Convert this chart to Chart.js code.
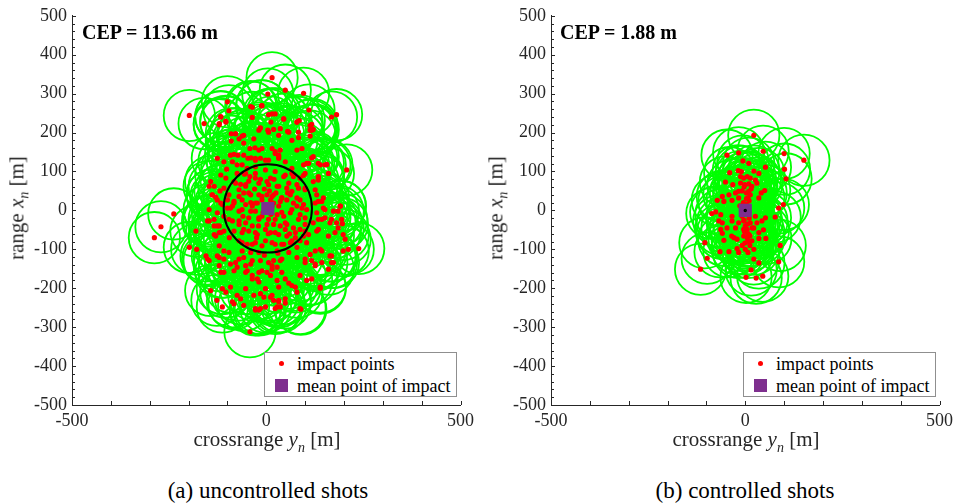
<!DOCTYPE html>
<html>
<head>
<meta charset="utf-8">
<script src="https://cdn.jsdelivr.net/npm/chart.js@4.4.1/dist/chart.umd.min.js"></script>
<style>
  body { margin: 0; background: #fff; }
  #page { position: relative; width: 958px; height: 503px; font-family: 'Liberation Serif', 'Times New Roman', serif; color: #000; overflow: hidden; }
  canvas { position: absolute; top: 0; }
  #left { left: 0; }
  #right { left: 479px; }
  .txt { position: absolute; white-space: nowrap; line-height: 1; }
  .txt sub { font-size: 14px; font-style: italic; }
  .ytitle { font-size: 21px; color: #262626; transform: translate(-50%, -50%) rotate(-90deg); }
  .xtitle { font-size: 21px; color: #262626; transform: translate(-50%, -50%); }
  .caption { font-size: 23px; transform: translate(-50%, -50%); }
  .cep { font-size: 20px; font-weight: bold; }
  .legend { position: absolute; box-sizing: border-box; width: 193px; height: 45px; border: 1px solid #8f8f8f; background: #fff; font-size: 18px; }
  .legend .row { position: absolute; left: 32px; line-height: 1; }
  .legend .dot { position: absolute; width: 5px; height: 5px; border-radius: 50%; background: #ff0000; }
  .legend .sq { position: absolute; width: 13px; height: 13px; background: #7e2f8e; }
</style>
</head>
<body>
<div id="page">
  <canvas id="left" width="479" height="440"></canvas>
  <canvas id="right" width="479" height="440"></canvas>

  <div class="txt ytitle" style="left:19px; top:208px;">range <i>x</i><sub>n</sub> [m]</div>
  <div class="txt ytitle" style="left:498px; top:208px;">range <i>x</i><sub>n</sub> [m]</div>
  <div class="txt xtitle" style="left:267px; top:442px;">crossrange <i>y</i><sub>n</sub> [m]</div>
  <div class="txt xtitle" style="left:746px; top:442px;">crossrange <i>y</i><sub>n</sub> [m]</div>
  <div class="txt caption" style="left:268px; top:490px;">(a) uncontrolled shots</div>
  <div class="txt caption" style="left:745px; top:490px;">(b) controlled shots</div>

  <div class="txt cep" id="cepLeft" style="left:82px; top:22px;"></div>
  <div class="txt cep" id="cepRight" style="left:560px; top:22px;"></div>

  <div class="legend" style="left:264px; top:352px;">
    <div class="dot" style="left:14px; top:8px;"></div>
    <div class="row" style="top:2px;">impact points</div>
    <div class="sq" style="left:10px; top:26px;"></div>
    <div class="row" style="top:24px;">mean point of impact</div>
  </div>
  <div class="legend" style="left:743px; top:352px;">
    <div class="dot" style="left:14px; top:8px;"></div>
    <div class="row" style="top:2px;">impact points</div>
    <div class="sq" style="left:10px; top:26px;"></div>
    <div class="row" style="top:24px;">mean point of impact</div>
  </div>
</div>

<script>
// impact points [crossrange y_n, range x_n] in metres
const uncontrolledImpacts = [
  [-198,244],[15,341],[49,309],[4,299],[96,301],[-100,279],[168,240],[181,246],[207,104],[190,11],
  [238,-98],[-238,-9],[-271,-42],[-288,-70],[-198,-95],[-143,-206],[-127,-231],[-113,-248],[-42,-312],[89,-254],
  [139,-200],[168,-134],[211,-100],[196,-34],
  [-117,241],[-104,229],[-121,220],[-40,267],[-12,269],[-36,239],[-15,212],[-90,197],[-79,197],[-62,191],
  [-70,184],[-90,178],[-58,173],[-32,184],[-42,159],[-29,161],[-19,155],[-11,159],[-83,144],[-73,142],
  [-92,142],[-58,142],[-47,134],[-39,135],[-28,134],[-15,134],[-126,134],[-109,125],[-87,125],[-75,117],
  [-102,106],[-62,117],[-49,108],[-28,112],[-75,95],[-56,93],[-42,87],[-28,83],[-117,91],[-104,83],
  [-83,74],[-66,67],[-53,66],[-143,74],[-134,62],[-109,57],[-119,50],[-70,53],[-58,45],[-40,40],
  [-139,40],[-130,34],[-100,27],[-83,23],[-62,27],[-113,15],[-92,6],
  [110,258],[6,246],[23,248],[45,235],[12,227],[79,227],[85,231],[117,221],[4,206],[19,208],
  [36,210],[55,203],[113,206],[121,208],[83,187],[66,180],[113,191],[15,159],[23,151],[32,142],
  [36,155],[79,155],[92,159],[6,129],[32,134],[117,135],[121,138],[96,117],[104,121],[139,117],
  [156,118],[66,108],[45,87],[70,87],[96,90],[134,83],[121,74],[79,66],[100,57],[28,62],
  [53,57],[66,49],[126,53],[130,40],[19,40],[40,32],[79,32],[2,74],[11,83],[143,23],[147,32],
  [191,11],[173,-2],[185,-2],[134,23],[147,6],[130,-6],[151,-19],[164,-32],[181,-32],[194,-23],
  [185,-45],[198,-62],[203,-74],[198,-104],[143,-23],[121,-32],[100,-36],[130,-53],[109,-62],[87,-78],
  [104,-83],[126,-104],[143,-104],[164,-117],[173,-134],[160,-151],[126,-138],[79,-121],[100,-125],[117,-129],
  [36,-129],[19,-129],[6,-134],[28,-146],[15,-151],[2,-159],[11,-167],[40,-159],[49,-176],[58,-187],
  [28,-180],[32,-197],[75,-197],[104,-180],[139,-197],[11,-223],[19,-231],[32,-231],[49,-238],[36,-248],
  [28,-248],[87,-252],[-6,-223],
  [2,15],[19,19],[36,23],[53,27],[70,19],[79,11],[96,15],[104,2],[11,-6],[28,-11],
  [45,-15],[62,-6],[87,-11],[100,-19],[2,-36],[19,-36],[36,-40],[53,-36],[70,-45],[87,-49],
  [11,-57],[32,-62],[53,-66],[75,-70],[96,-66],[-2,-78],[23,-87],[45,-87],[62,-83],[79,-95],
  [28,-104],[58,-108],
  [-181,-53],[-179,-100],[-155,-117],[-151,-125],[-147,-27],[-134,-40],[-126,-40],[-134,-62],[-121,-57],[-109,-53],
  [-121,-91],[-109,-104],[-96,-108],[-121,-121],[-109,-125],[-121,-142],[-109,-159],[-117,-159],[-92,-138],[-75,-146],
  [-83,-155],[-70,-125],[-58,-121],[-40,-138],[-49,-155],[-36,-167],[-19,-159],[-23,-176],[-113,-201],[-92,-197],
  [-66,-227],[-32,-218],[-15,-214],[-83,-240],[-58,-244],[-28,-256],[-15,-252],
  [-117,19],[-100,6],[-83,19],[-70,-2],[-53,15],[-40,-2],[-28,19],[-126,-6],[-109,-15],[-87,-27],
  [-70,-36],[-53,-32],[-36,-40],[-19,-19],[-83,-53],[-62,-57],[-45,-53],[-23,-62],[-70,-78],[-49,-87],
  [-28,-83],[-62,-104],[-40,-108],[-19,-108],[-15,-129],
  [-53,95],[-28,95],[-2,104],[23,100],[49,91],[66,95],[87,83],[-79,70],[-53,62],[-19,70],
  [6,66],[32,62],[58,70],[83,57],[100,53],[-96,40],[-70,36],[-45,45],[-19,40],[-11,27],
  [15,36],[40,32],[62,40],[87,27],[-87,11],[-62,2],[-36,11],[32,11],[66,2],[92,6],
  [-96,-23],[-70,-27],[-45,-19],[-19,-23],[23,-23],[49,-32],[83,-23],[-58,-49],[-28,-57],[-2,-49],
  [23,-57],[49,-49],[75,-57],[100,-53],[-62,-83],[-36,-87],[-11,-91],[15,-83],[40,-87],[66,-78],
  [-11,36],[2,40],[11,27],[-23,19],[15,11],[-11,-15],[6,-23],[-28,-2],[23,146],[32,138],
  [-28,129],[-2,129],[49,125],[134,78],[126,19],[151,2],[134,-23],[168,-23],[134,-49],[160,-66],
  [177,-57],[139,-100],[113,-113],[143,-134],[168,-117],[100,-134],[126,-142],[87,-167],[117,-176],[66,-193],
  [79,-210],[49,-227],[32,-235],[23,-252],[-2,-248],[-19,-256],[-28,-252],[15,-218],[-2,-201],[-19,-184],
  [-36,-176],[-53,-201],[-75,-218],[-87,-235],[-104,-210],[-79,-134],[-53,-142],[-36,-129],[-11,-155],[15,-142],
  [40,-125],[-53,-159],[-147,62],[-139,40],[-126,27],[-147,2],[-134,-23],[-121,-40],[-151,-27],[-130,-66],
  [-117,-57],[-147,-129],[-126,-117],[-160,223],[-121,223],[-104,227],[-117,240],[-96,256],[-36,265],[-11,269],
  [15,248],[45,235],[79,227],[113,218],[117,206],[83,201],[58,201],[-79,197],[-58,193],[-19,206],
  [6,201],[32,193],[109,121],[134,121],[151,117],[100,95],[134,87],[160,95],
  [-5,55],[8,50],[-15,80],[20,80],[-30,55],[25,45],[-8,-5],[12,-10],[-20,-40],[5,-60],
  [-40,20],[40,-5],[-45,75],[55,45],[-25,-70],[30,-110],[-5,-115],[-60,-15],[60,-60],[-95,-70]
];

const controlledImpacts = [
  [22,193],[46,152],[100,146],[151,129],[-17,148],[-47,142],[-6,127],[9,121],[52,111],[101,106],
  [-40,97],[-18,102],[22,101],[35,95],[105,81],[-51,73],[-12,87],[-4,83],[5,87],[13,83],
  [26,78],[30,70],[-32,66],[-12,70],[-1,66],[9,68],[17,62],[50,51],[41,45],[35,32],
  [-59,36],[-42,40],[-25,45],[-17,49],[9,49],[13,40],[-72,26],[-55,23],[-34,26],[-17,32],
  [7,32],[98,15],[86,6],[-86,-8],[-76,-4],[-63,-11],[-34,-15],[-8,-15],[9,-6],[26,-15],
  [52,-19],[77,-17],[-68,-27],[-59,-32],[-34,-27],[-17,-32],[-4,-27],[13,-32],[30,-32],[43,-27],
  [-63,-49],[-47,-45],[-25,-45],[-4,-49],[5,-49],[22,-45],[47,-50],[35,-57],[-59,-59],[-35,-66],
  [-21,-74],[-4,-66],[5,-70],[17,-78],[35,-72],[53,-72],[-104,-83],[-55,-77],[-29,-70],[-1,-84],
  [9,-78],[90,-90],[-21,-98],[22,-100],[-42,-106],[-65,-106],[-17,-108],[7,-108],[-98,-123],[22,-125],
  [35,-135],[86,-132],[-115,-151],[15,-153],[2,-172],[28,-174],[45,-169],
  [0,10],[5,-10],[-5,20],[10,-20],[0,-40],[8,-60],[-8,50],[3,30],[12,-90],[0,-100],[-10,100],[15,55],
  [2,-5],[-3,-25],[6,-35],[-6,5],[4,15],[10,25],[-2,-55],[6,-80],[12,-65],[-8,-90],[3,45],[-3,60],
  [18,-45],[-14,12]
];

const meanUncontrolled = [4, 5];
const meanControlled = [0, 0];
const cepValues = [113.66, 1.88];

const xTickLabels = [-500, 0, 500];
const yTickLabels = [-500, -400, -300, -200, -100, 0, 100, 200, 300, 400, 500];

const RANGE_MIN = -500, RANGE_MAX = 500;
const SPREAD_RADIUS_M = 66;   // radius of the green circles, metres
const AXIS_COLOR = '#262626';
const FONT = "'Liberation Serif', 'Times New Roman', serif";

function metresToPixels(chart, m) {
  if (!chart.chartArea) return 0;
  const s = chart.scales.x;
  return Math.abs(s.getPixelForValue(m) - s.getPixelForValue(0));
}

const inwardTicks = {
  id: 'inwardTicks',
  afterDraw(chart) {
    const { ctx, chartArea: a, scales: { x, y } } = chart;
    ctx.save();
    ctx.strokeStyle = AXIS_COLOR;
    ctx.lineWidth = 1;
    ctx.beginPath();
    x.ticks.forEach(t => {
      const px = Math.round(x.getPixelForValue(t.value)) + 0.5;
      ctx.moveTo(px, a.bottom);
      ctx.lineTo(px, a.bottom - 4);
    });
    y.ticks.forEach(t => {
      const py = Math.round(y.getPixelForValue(t.value)) + 0.5;
      ctx.moveTo(a.left, py);
      ctx.lineTo(a.left + (t.value % 100 === 0 ? 4 : 3), py);
    });
    ctx.stroke();
    ctx.restore();
  }
};

function draw(canvasId, impacts, mean, cep) {
  const pts = impacts.map(p => ({ x: p[0], y: p[1] }));
  const mp = [{ x: mean[0], y: mean[1] }];
  // first dataset ends up on top
  new Chart(document.getElementById(canvasId), {
    type: 'scatter',
    data: {
      datasets: [
        { label: 'CEP', data: mp, pointStyle: 'circle',
          pointRadius: c => metresToPixels(c.chart, cep),
          backgroundColor: 'rgba(0,0,0,0)', borderColor: '#000', borderWidth: 2 },
        { label: 'mean point of impact', data: mp, pointStyle: 'rect', pointRadius: 9.3,
          backgroundColor: '#7e2f8e', borderColor: '#7e2f8e', borderWidth: 0 },
        { label: 'impact points', data: pts, pointStyle: 'circle', pointRadius: 2.6,
          backgroundColor: '#ff0000', borderColor: '#ff0000', borderWidth: 0 },
        { label: 'spread', data: pts, pointStyle: 'circle',
          pointRadius: c => metresToPixels(c.chart, SPREAD_RADIUS_M),
          backgroundColor: 'rgba(0,0,0,0)', borderColor: '#00ff00', borderWidth: 1.8 }
      ]
    },
    options: {
      responsive: false,
      animation: false,
      events: [],
      layout: { padding: { top: 12, right: 16, left: 0, bottom: 0 } },
      plugins: { legend: { display: false }, tooltip: { enabled: false } },
      scales: {
        x: {
          type: 'linear', min: RANGE_MIN, max: RANGE_MAX,
          grid: { display: false, drawTicks: false },
          border: { display: true, color: AXIS_COLOR, width: 1 },
          ticks: {
            stepSize: 100, autoSkip: false, maxRotation: 0, padding: 5,
            color: AXIS_COLOR, font: { family: FONT, size: 18 },
            callback: v => xTickLabels.includes(v) ? String(v) : ''
          },
          afterFit: s => { s.height = 35; }
        },
        y: {
          type: 'linear', min: RANGE_MIN, max: RANGE_MAX,
          grid: { display: false, drawTicks: false },
          border: { display: true, color: AXIS_COLOR, width: 1 },
          ticks: {
            stepSize: 20, autoSkip: false, padding: 5,
            color: AXIS_COLOR, font: { family: FONT, size: 18 },
            callback: v => yTickLabels.includes(v) ? String(v) : ''
          },
          afterFit: s => { s.width = 72; }
        }
      }
    },
    plugins: [inwardTicks]
  });
}

document.getElementById('cepLeft').textContent = 'CEP = ' + cepValues[0].toFixed(2) + ' m';
document.getElementById('cepRight').textContent = 'CEP = ' + cepValues[1].toFixed(2) + ' m';

draw('left', uncontrolledImpacts, meanUncontrolled, cepValues[0]);
draw('right', controlledImpacts, meanControlled, cepValues[1]);
</script>
</body>
</html>
